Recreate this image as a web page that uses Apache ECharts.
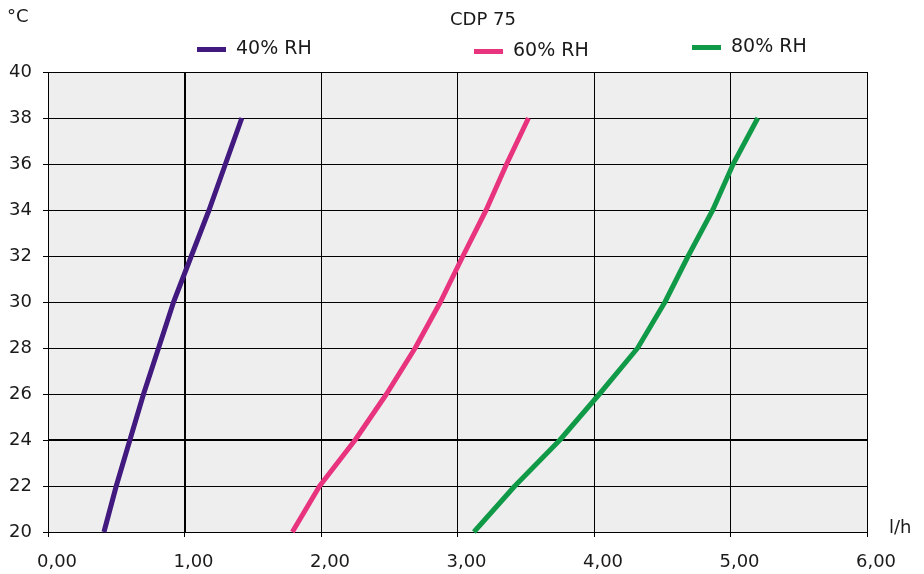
<!DOCTYPE html>
<html><head><meta charset="utf-8">
<script src="https://cdn.jsdelivr.net/npm/echarts@6/dist/echarts.min.js"></script>
<style>html,body{margin:0;padding:0;background:#fff}#c{width:924px;height:574px}</style>
</head><body><div id="c"></div>
<script>
const temps = [20, 22, 24, 26, 28, 30, 32, 34, 36, 38];
const rh40 = [0.41, 0.50, 0.60, 0.70, 0.81, 0.92, 1.05, 1.18, 1.30, 1.42];
const rh60 = [1.79, 1.99, 2.25, 2.48, 2.69, 2.875, 3.04, 3.21, 3.36, 3.52];
const rh80 = [3.12, 3.42, 3.75, 4.04, 4.32, 4.52, 4.69, 4.87, 5.02, 5.20];
const seriesNames = ['40% RH', '60% RH', '80% RH'];
const title = 'CDP 75';

const FONT = 'DejaVu Sans';
const colors = ['#41197f', '#e8347f', '#109a48'];
const pair = arr => arr.map((x, i) => [x, temps[i]]);
const chart = echarts.init(document.getElementById('c'), null, {renderer: 'canvas'});
const legendTops = [35, 37, 33];
const legendLefts = [192, 469, 687];
chart.setOption({
  animation: false,
  backgroundColor: '#fff',
  textStyle: {fontFamily: FONT},
  title: {text: title, left: 483, top: 11, textAlign: 'center', padding: 0,
    textStyle: {fontFamily: FONT, fontSize: 18, fontWeight: 'normal', color: '#1a1a1a'}},
  legend: seriesNames.map((n, i) => ({
    data: [n], left: legendLefts[i], top: legendTops[i], icon: 'rect',
    itemWidth: 29, itemHeight: 5, itemGap: 8,
    textStyle: {fontFamily: FONT, fontSize: 19, color: '#1a1a1a', padding: [0, 0, 0, 5]}
  })),
  grid: {left: 48, right: 57, top: 72, bottom: 42, show: true, backgroundColor: '#eeeeee', borderWidth: 0},
  xAxis: {
    type: 'value', min: 0, max: 6, interval: 1,
    axisLine: {show: true, lineStyle: {color: '#000', width: 1}},
    axisTick: {show: true, length: 5, lineStyle: {color: '#000'}},
    axisLabel: {fontFamily: FONT, fontSize: 18, color: '#1a1a1a', margin: 21, padding: [0, 0, 0, 18],
      formatter: v => v.toFixed(2).replace('.', ',')},
    splitLine: {show: true, lineStyle: {color: '#000', width: 1}}
  },
  yAxis: {
    type: 'value', min: 20, max: 40, interval: 2,
    axisLine: {show: false},
    axisTick: {show: true, length: 5, lineStyle: {color: '#000'}},
    axisLabel: {fontFamily: FONT, fontSize: 18, color: '#1a1a1a', margin: 16},
    splitLine: {show: true, lineStyle: {color: '#000', width: 1}}
  },
  graphic: [
    {type: 'text', left: 7, top: 8, style: {text: '°C', fontFamily: FONT, fontSize: 18, fill: '#1a1a1a'}},
    {type: 'text', left: 889, top: 519, style: {text: 'l/h', fontFamily: FONT, fontSize: 18, fill: '#1a1a1a'}}
  ],
  series: [rh40, rh60, rh80].map((arr, i) => ({
    name: seriesNames[i], type: 'line', data: pair(arr), smooth: false,
    showSymbol: false, symbol: 'none', color: colors[i],
    lineStyle: {width: 5, color: colors[i], join: 'round'}, z: 5,
    markLine: i === 0 ? {
      silent: true, symbol: 'none', label: {show: false},
      lineStyle: {color: '#000', width: 2, type: 'solid'},
      data: [{xAxis: 1}, {yAxis: 24}]
    } : undefined
  }))
});
</script></body></html>
